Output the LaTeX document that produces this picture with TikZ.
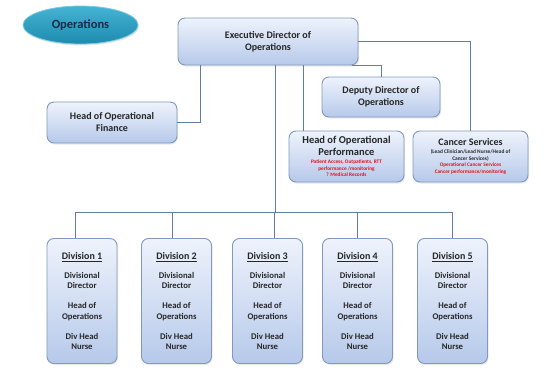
\documentclass[tikz,border=0pt]{standalone}
\usepackage{fontspec}
\setmainfont{Carlito}
\usetikzlibrary{shapes.geometric,positioning,shadows}

\definecolor{boxline}{HTML}{8298BC}
\definecolor{boxtop}{HTML}{EEF3FC}
\definecolor{boxbot}{HTML}{B6C9EA}
\definecolor{linkcol}{HTML}{5F7DA6}
\definecolor{notered}{HTML}{E0101A}
\definecolor{ovaltop}{HTML}{45B3D3}
\definecolor{ovalbot}{HTML}{1E8BAE}
\definecolor{ovaltext}{HTML}{1B2A48}

\newcommand{\redtxt}[1]{{\color{notered}\fontsize{5.3}{6}\selectfont #1}}
\newcommand{\smalltxt}[1]{{\fontsize{5.4}{6}\selectfont #1}}

\begin{document}
\begin{tikzpicture}[x=1pt,y=-1pt,
    box/.style   = {rectangle, rounded corners=7pt, draw=boxline, line width=0.9pt,
                    top color=boxtop, bottom color=boxbot, align=center,
                    drop shadow={opacity=0.18, shadow xshift=1pt, shadow yshift=-1.5pt},
                    font=\bfseries\fontsize{10}{12}\selectfont, text=black!85},
    divbox/.style = {box, minimum width=70pt, minimum height=125pt, inner sep=2pt,
                     font=\bfseries\fontsize{8.7}{10.2}\selectfont},
    link/.style  = {draw=linkcol, line width=0.9pt}
  ]
  \useasboundingbox (0,0) rectangle (550,388);

  % title oval
  \node[ellipse, draw=ovaltop!70, line width=0.8pt, top color=ovaltop, bottom color=ovalbot,
        drop shadow={opacity=0.2, shadow xshift=1pt, shadow yshift=-1.5pt},
        minimum width=115pt, minimum height=38pt, text=ovaltext,
        font=\bfseries\fontsize{12.5}{14}\selectfont] (title) at (80.5,25) {Operations};

  % top of the tree
  \node[box, minimum width=180pt, minimum height=47pt] (exec) at (268,41.5)
       {Executive Director of\\Operations};
  \node[box, minimum width=118pt, minimum height=40pt] (dep) at (381,97)
       {Deputy Director of\\Operations};
  \node[box, minimum width=130pt, minimum height=41pt] (fin) at (112,122.5)
       {Head of Operational\\Finance};
  \node[box, minimum width=115pt, minimum height=51pt, inner sep=2pt] (perf) at (346.5,156.5)
       {{\fontsize{10.5}{11}\selectfont Head of Operational}\\
        {\fontsize{10.5}{11}\selectfont Performance}\\[-4pt]
        \redtxt{Patient Access, Outpatients, RTT}\\[-5.5pt]
        \redtxt{performance /monitoring}\\[-5.5pt]
        \redtxt{? Medical Records}};
  \node[box, minimum width=115pt, minimum height=51pt, inner sep=2pt] (canc) at (470.5,156.5)
       {{\fontsize{10}{11}\selectfont Cancer Services}\\[-4pt]
        \smalltxt{(Lead Clinician/Lead Nurse/Head of}\\[-5.5pt]
        \smalltxt{Cancer Services)}\\[-5.5pt]
        \redtxt{Operational Cancer Services}\\[-5.5pt]
        \redtxt{Cancer performance/monitoring}};

  % divisions
  \foreach \n/\x in {1/82,2/176.5,3/267.5,4/357.5,5/452.5}
    \node[divbox] (div\n) at (\x,301)
         {{\fontsize{10}{12}\selectfont\underline{Division \n}}\\[9pt]
          Divisional\\Director\\[10pt]
          Head of\\Operations\\[10pt]
          Div Head\\Nurse};

  \coordinate (bus) at (275,212);

  % connectors
  \draw[link] ([xshift=-68pt]exec.south) |- (fin.east);
  \draw[link] ([xshift=7pt]exec.south) -- (bus);
  \draw[link] ([xshift=35pt]exec.south) -- ([xshift=35pt]exec.south |- perf.north);
  \draw[link] ([xshift=-6pt]exec.south east) -| (dep.north);
  \draw[link] (exec.east) -| (canc.north);
  \foreach \d/\s in {1/-7,2/-4,3/7,4/0,5/0}
    \draw[link] (bus) -| ([xshift=\s pt]div\d.north);
\end{tikzpicture}
\end{document}
